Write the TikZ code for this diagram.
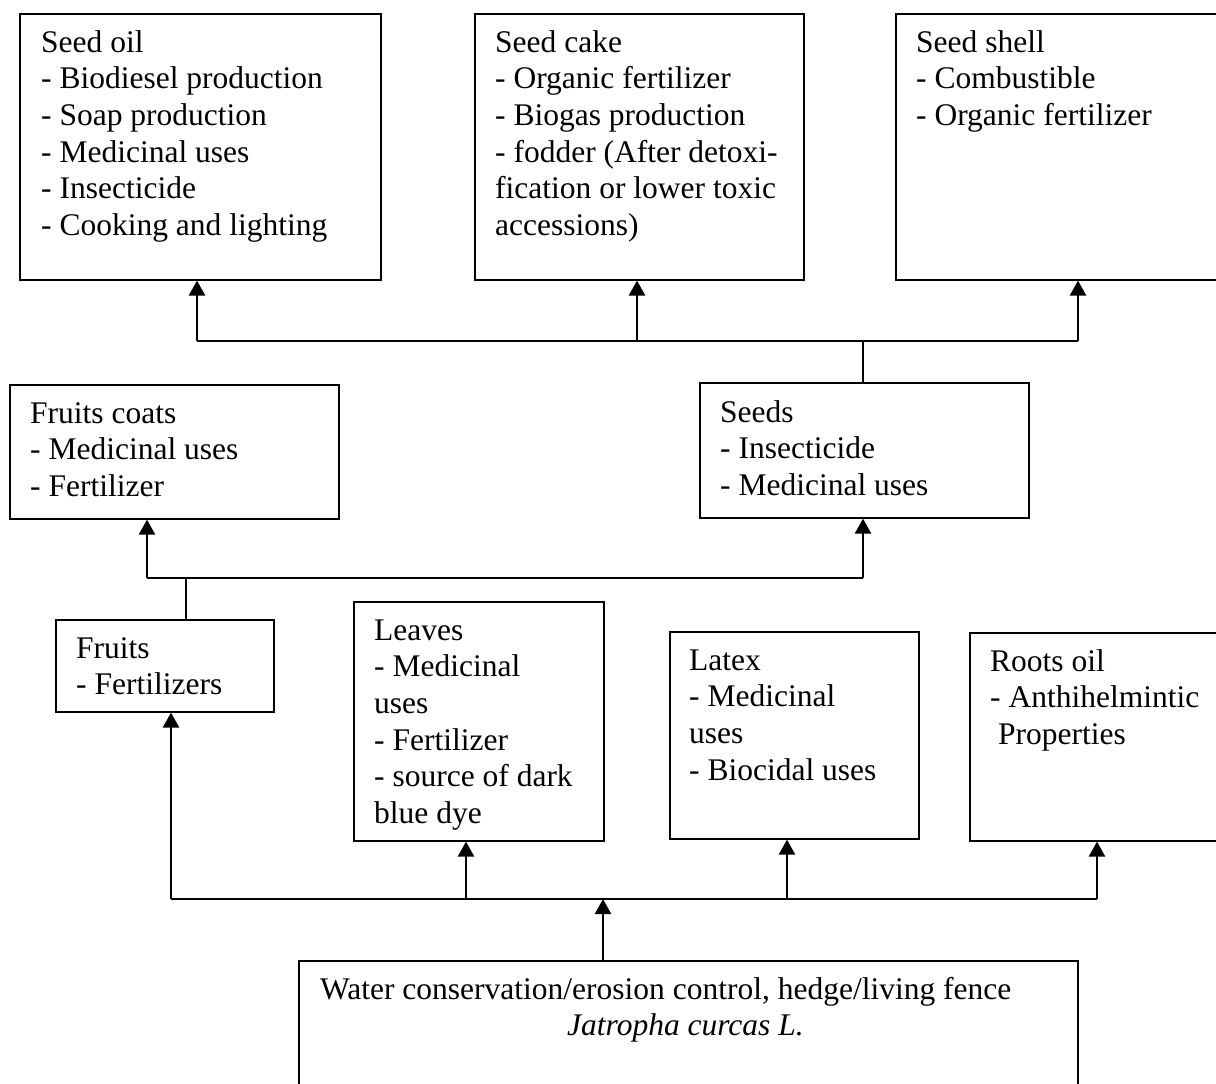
\documentclass[tikz,border=0pt]{standalone}
\usepackage{fontspec}
\setmainfont{Liberation Serif}
\usetikzlibrary{arrows.meta}
\begin{document}
\begin{tikzpicture}[x=1pt,y=-1pt,
  box/.style={draw=black, line width=1.6pt, anchor=north west, inner sep=0pt},
  txt/.style={anchor=north west, inner sep=0pt, align=left, font=\fontsize{31.5}{36.7}\selectfont},
  bus/.style={line width=1.6pt},
  arr/.style={line width=2.4pt, -{Triangle[width=16pt,length=15pt]}},
]
\useasboundingbox (0,0) rectangle (1216,1084);
\clip (0,0) rectangle (1216,1084);

% boxes
\node[box, minimum width=361pt, minimum height=266pt] (seedoil) at (19,13) {};
\node[box, minimum width=329pt, minimum height=266pt] (seedcake) at (474,13) {};
\node[box, minimum width=366pt, minimum height=266pt] (seedshell) at (895,13) {};
\node[box, minimum width=329pt, minimum height=134pt] (fcoats) at (9,384) {};
\node[box, minimum width=329pt, minimum height=135pt] (seeds) at (699,382) {};
\node[box, minimum width=218pt, minimum height=92pt] (fruits) at (55,619) {};
\node[box, minimum width=250pt, minimum height=239pt] (leaves) at (353,601) {};
\node[box, minimum width=249pt, minimum height=207pt] (latex) at (669,631) {};
\node[box, minimum width=256pt, minimum height=208pt] (roots) at (969,632) {};
\node[box, minimum width=779pt, minimum height=200pt] (jc) at (298,960) {};

% texts
\node[txt] (seedoilT) at (41,26.3) {\strut Seed oil\\- Biodiesel production\\- Soap production\\- Medicinal uses\\- Insecticide\\- Cooking and lighting};
\node[txt] (seedcakeT) at (495,26.3) {\strut Seed cake\\- Organic fertilizer\\- Biogas production\\- fodder (After detoxi-\\fication or lower toxic\\accessions)};
\node[txt] (seedshellT) at (916,26.3) {\strut Seed shell\\- Combustible\\- Organic fertilizer};
\node[txt] (fcoatsT) at (30,397.3) {\strut Fruits coats\\- Medicinal uses\\- Fertilizer};
\node[txt] (seedsT) at (720,396.3) {\strut Seeds\\- Insecticide\\- Medicinal uses};
\node[txt] (fruitsT) at (76,632.3) {\strut Fruits\\- Fertilizers};
\node[txt] (leavesT) at (374,614.3) {\strut Leaves\\- Medicinal\\uses\\- Fertilizer\\- source of dark\\blue dye};
\node[txt] (latexT) at (689,644.3) {\strut Latex\\- Medicinal\\uses\\- Biocidal uses};
\node[txt] (rootsT) at (990,645.3) {\strut Roots oil\\- Anthihelmintic\\\hspace*{8pt}Properties};
\node[txt] (jcT) at (320,973.3) {\strut Water conservation/erosion control, hedge/living fence\\\hspace*{247pt}\textit{Jatropha curcas L.}};

% top bus
\coordinate (b1l) at (197,341);
\coordinate (b1m) at (637,341);
\coordinate (b1r) at (1078,341);
\coordinate (b1s) at (863,341);
\draw[bus] (b1l) -- (b1r);
\draw[bus] (b1s |- seeds.north) -- (b1s);
\draw[arr] (b1l) -- (b1l |- seedoil.south);
\draw[arr] (b1m) -- (b1m |- seedcake.south);
\draw[arr] (b1r) -- (b1r |- seedshell.south);

% middle bus
\coordinate (b2l) at (147,578);
\coordinate (b2r) at (863,578);
\coordinate (b2s) at (186,578);
\draw[bus] (b2l) -- (b2r);
\draw[bus] (b2s |- fruits.north) -- (b2s);
\draw[arr] (b2l) -- (b2l |- fcoats.south);
\draw[arr] (b2r) -- (b2r |- seeds.south);

% bottom bus
\coordinate (b3a) at (171,899);
\coordinate (b3b) at (466,899);
\coordinate (b3c) at (787,899);
\coordinate (b3d) at (1097,899);
\coordinate (b3j) at (603,899);
\draw[bus] (b3a) -- (b3d);
\draw[arr] (b3a) -- (b3a |- fruits.south);
\draw[arr] (b3b) -- (b3b |- leaves.south);
\draw[arr] (b3c) -- (b3c |- latex.south);
\draw[arr] (b3d) -- (b3d |- roots.south);
\draw[arr] (b3j |- jc.north) -- (b3j);
\end{tikzpicture}
\end{document}
